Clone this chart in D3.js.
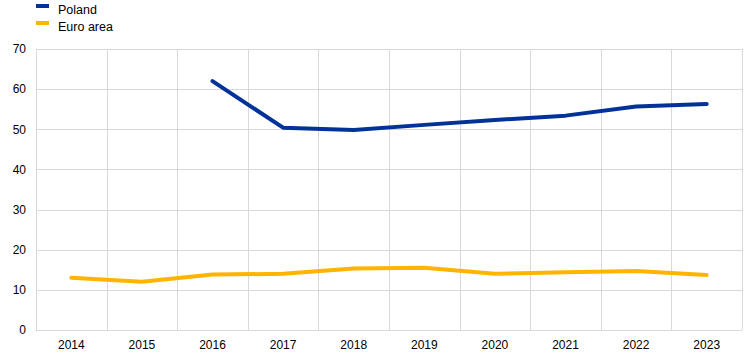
<!DOCTYPE html>
<html>
<head>
<meta charset="utf-8">
<script src="https://cdn.jsdelivr.net/npm/d3@7"></script>
<style>
  body { margin: 0; background: #fff; }
  text { font-family: "Liberation Sans", Arial, sans-serif; fill: #000; }
</style>
</head>
<body>
<script>
var years = ["2014", "2015", "2016", "2017", "2018", "2019", "2020", "2021", "2022", "2023"];
var poland = [null, null, 62.0, 50.4, 49.8, 51.1, 52.3, 53.4, 55.7, 56.3];
var euroArea = [13.0, 12.0, 13.8, 14.0, 15.3, 15.5, 14.0, 14.4, 14.7, 13.7];
var yTicks = [0, 10, 20, 30, 40, 50, 60, 70];

var series = [
  {name: "Poland", values: poland, color: "#003299"},
  {name: "Euro area", values: euroArea, color: "#ffb400"}
];

var width = 744, height = 357;
var margin = {top: 49, right: 2, bottom: 27, left: 36};

var svg = d3.select("body")
  .append("svg")
    .attr("width", width)
    .attr("height", height);

var x = d3.scaleBand()
    .domain(years)
    .range([margin.left, width - margin.right]);

var y = d3.scaleLinear()
    .domain([0, 70])
    .range([height - margin.bottom, margin.top]);

// grid
svg.append("g")
    .selectAll("line")
    .data(yTicks)
  .enter().append("line")
    .attr("x1", margin.left)
    .attr("x2", width - margin.right)
    .attr("y1", function(d) { return Math.round(y(d)) + 0.5; })
    .attr("y2", function(d) { return Math.round(y(d)) + 0.5; })
    .attr("stroke", "#d9d9d9");

var edges = years.map(function(d) { return x(d); }).concat([x.range()[1]]);
svg.append("g")
    .selectAll("line")
    .data(edges)
  .enter().append("line")
    .attr("x1", function(d) { return Math.round(d) + 0.5; })
    .attr("x2", function(d) { return Math.round(d) + 0.5; })
    .attr("y1", y(70))
    .attr("y2", y(0))
    .attr("stroke", "#d9d9d9");

// axes
var yAxis = svg.append("g")
    .attr("transform", "translate(" + (margin.left - 10) + ",0)")
    .call(d3.axisLeft(y).tickValues(yTicks).tickSize(0).tickPadding(0));
yAxis.select(".domain").remove();
yAxis.selectAll("text").style("font-size", "12px").style("font-family", "Liberation Sans, Arial, sans-serif");

var xAxis = svg.append("g")
    .attr("transform", "translate(0," + (height - margin.bottom) + ")")
    .call(d3.axisBottom(x).tickSize(0).tickPadding(10));
xAxis.select(".domain").remove();
xAxis.selectAll("text").style("font-size", "12px").style("font-family", "Liberation Sans, Arial, sans-serif");

// lines
var line = d3.line()
    .defined(function(d) { return d.v != null; })
    .x(function(d) { return x(d.year) + x.bandwidth() / 2; })
    .y(function(d) { return y(d.v); });

svg.selectAll("path.series")
    .data(series)
  .enter().append("path")
    .attr("class", "series")
    .attr("fill", "none")
    .attr("stroke", function(d) { return d.color; })
    .attr("stroke-width", 4)
    .attr("stroke-linecap", "round")
    .attr("stroke-linejoin", "round")
    .attr("d", function(s) {
      return line(years.map(function(yr, i) { return {year: yr, v: s.values[i]}; }));
    });

// legend
var legend = svg.selectAll("g.legend")
    .data(series)
  .enter().append("g")
    .attr("class", "legend")
    .attr("transform", function(d, i) { return "translate(36," + (4 + i * 17) + ")"; });

legend.append("rect")
    .attr("width", 13)
    .attr("height", 4)
    .attr("fill", function(d) { return d.color; });

legend.append("text")
    .attr("x", 22)
    .attr("y", 10)
    .style("font-size", "12.5px")
    .text(function(d) { return d.name; });
</script>
</body>
</html>
